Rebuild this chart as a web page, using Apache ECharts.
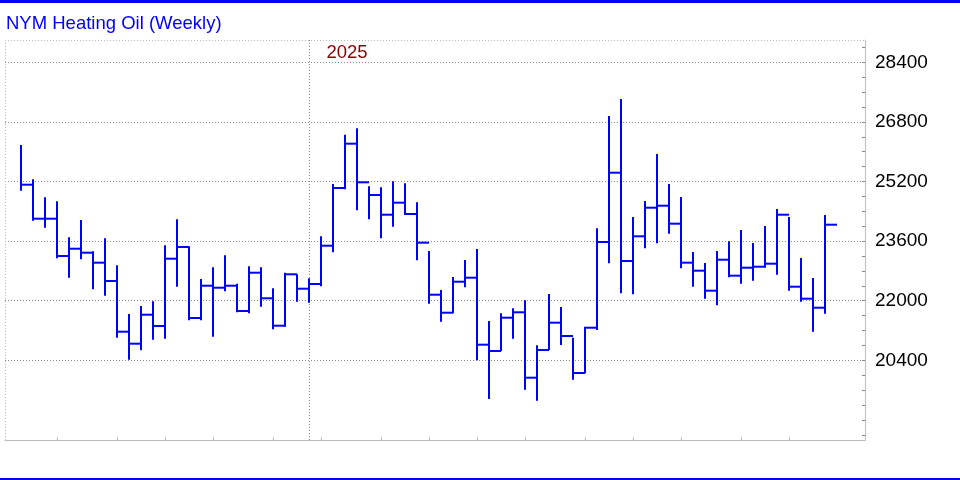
<!DOCTYPE html>
<html>
<head>
<meta charset="utf-8">
<script src="https://cdn.jsdelivr.net/npm/echarts@6/dist/echarts.min.js"></script>
<style>
html,body{margin:0;padding:0;background:#fff;}
#chart{width:960px;height:480px;}
</style>
</head>
<body>
<div id="chart"></div>
<script>
// ---- data (weekly HLC) ----
const highs = [26181,25260,24777,24669,23703,24167,23327,23676,22951,21643,21858,21984,23488,24186,
  23461,22583,22897,23219,22457,22924,22897,22333,22752,22709,22602,23729,25134,26457,26629,25072,
  25045,25206,25152,24642,23335,22288,22637,23093,23388,21455,21662,21796,22011,20803,22180,21831,
  21007,21275,23944,26960,27416,24248,24677,25939,25134,24785,23308,23013,23335,23595,23899,23549,
  24006,24462,24248,23147,22610,24301];
const lows = [24954,24148,23960,23139,22618,23112,22306,22134,21007,20416,20669,20953,20980,22376,
  21474,21474,21034,22253,21689,21662,21839,21232,21302,21973,21947,22387,23300,24991,24428,24186,
  23676,23987,24301,23085,21920,21436,21662,22360,20400,19361,20650,20980,19611,19315,20677,20811,
  19879,20051,21214,23004,22199,22172,23407,23541,23799,22870,22376,22054,21877,22629,22457,22537,
  22886,22698,22269,21973,21168,21651];
const closes = [25115,24202,24202,23200,23396,23289,23021,22529,21168,20846,21624,21321,23128,23442,
  21536,22403,22349,22403,21724,22752,22065,21329,22709,22322,22449,23477,25026,26216,25179,24838,
  24309,24632,24328,23558,22161,21678,22510,22618,20819,20650,21544,21689,19933,20677,21410,21052,
  20059,21275,23576,25437,23066,23729,24497,24551,24068,23021,22806,22269,23101,22672,22886,22913,
  22994,24309,22376,22054,21812,24041];
const monthTickIdx = [3, 8, 12, 16, 21, 25, 30, 34, 38, 42, 47, 51, 55, 60, 64];
const yearMarks = [[24, '2025']];
const yTickLabels = [20400, 22000, 23600, 25200, 26800, 28400];
const titleText = 'NYM Heating Oil (Weekly)';

const Y_MIN = 18260, Y_MAX = 29000;
const X_MIN = -4 / 3, X_MAX = 70 + 1 / 3;
const minorTicks = [];
for (let v = 18400; v <= 28800; v += 400) minorTicks.push(v);

const barData = highs.map((h, i) => [i, h, lows[i], closes[i]]);
const FONT = '"Liberation Sans", Arial, sans-serif';
const BLUE = '#0000ff';

const chart = echarts.init(document.getElementById('chart'), null, {renderer: 'canvas'});
chart.setOption({
  animation: false,
  backgroundColor: '#ffffff',
  title: {
    text: titleText, left: 6, top: 14, padding: 0,
    textStyle: {color: BLUE, fontFamily: FONT, fontSize: 18.5, fontWeight: 'normal'}
  },
  graphic: [
    {type: 'rect', shape: {x: 0, y: 0, width: 960, height: 3}, style: {fill: BLUE}, silent: true},
    {type: 'rect', shape: {x: 0, y: 478, width: 960, height: 2}, style: {fill: BLUE}, silent: true}
  ],
  grid: {left: 5, right: 95, top: 40, bottom: 40},
  xAxis: {
    type: 'value', min: X_MIN, max: X_MAX,
    axisLine: {onZero: false, lineStyle: {color: '#bdbdbd', width: 1}},
    axisTick: {show: true, inside: true, length: 3, customValues: monthTickIdx, lineStyle: {color: '#bdbdbd'}},
    axisLabel: {show: false},
    splitLine: {show: false}
  },
  yAxis: {
    type: 'value', position: 'right', min: Y_MIN, max: Y_MAX, scale: true,
    axisLine: {show: true, onZero: false, lineStyle: {color: '#bdbdbd', width: 1}},
    axisTick: {show: true, inside: true, length: 3, customValues: minorTicks, lineStyle: {color: '#888'}},
    axisLabel: {show: true, customValues: yTickLabels, margin: 10, color: '#000', fontFamily: FONT, fontSize: 19,
      formatter: v => String(Math.round(v))},
    splitLine: {show: false}
  },
  series: [
    {
      type: 'custom',
      data: barData,
      clip: false,
      encode: {x: 0, y: [1, 2, 3]},
      renderItem: function (params, api) {
        const i = api.value(0);
        const pHi = api.coord([i, api.value(1)]);
        const pLo = api.coord([i, api.value(2)]);
        const pCl = api.coord([i, api.value(3)]);
        const w = api.size([1, 0])[0];
        const st = {stroke: BLUE, lineWidth: 2};
        return {type: 'group', children: [
          {type: 'line', shape: {x1: pHi[0], y1: pHi[1], x2: pLo[0], y2: pLo[1]}, style: st},
          {type: 'line', shape: {x1: pCl[0] - 1, y1: pCl[1], x2: pCl[0] + w, y2: pCl[1]}, style: st}
        ]};
      },
      markLine: {
        silent: true, symbol: 'none', animation: false,
        label: {show: false},
        data: yTickLabels.map(v => ({yAxis: v, lineStyle: {color: '#8a8a8a', type: [1, 2], width: 1}}))
          .concat([
            {yAxis: Y_MAX, lineStyle: {color: '#b8b8b8', type: [1, 2], width: 1}},
            {xAxis: X_MIN, lineStyle: {color: '#b8b8b8', type: [1, 2], width: 1}}
          ])
          .concat(yearMarks.map(m => ({xAxis: m[0], lineStyle: {color: '#8a8a8a', type: [1, 2], width: 1}})))
      },
      z: 5
    },
    {
      type: 'custom',
      data: yearMarks,
      renderItem: function (params, api) {
        const p = api.coord([api.value(0), Y_MAX]);
        return {type: 'text', x: p[0] + 38, y: p[1] + 13,
          style: {text: yearMarks[params.dataIndex][1], fill: '#8b0000', font: '18.5px ' + FONT,
            textAlign: 'center', textVerticalAlign: 'middle'}};
      },
      z: 6
    }
  ]
});
</script>
</body>
</html>
